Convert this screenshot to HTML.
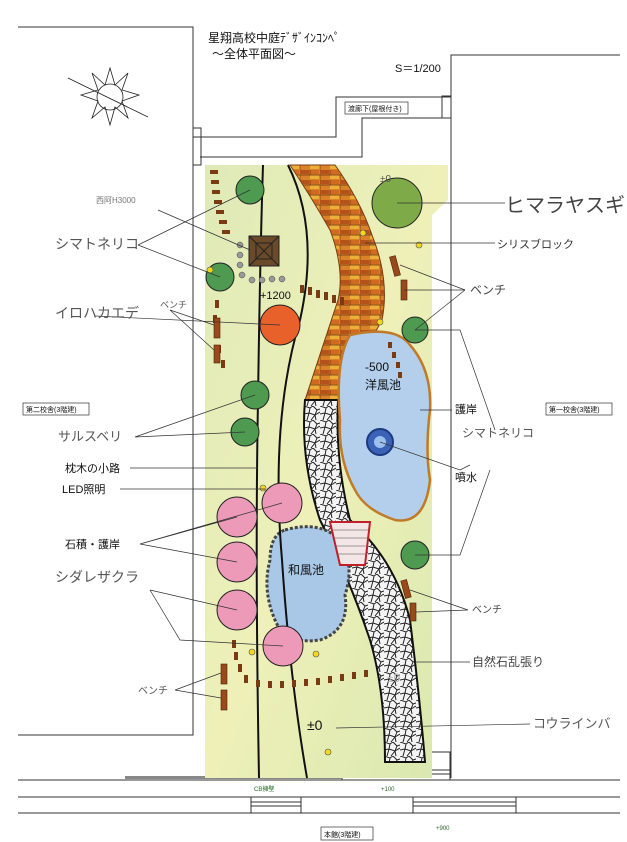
<!DOCTYPE html>
<html><head><meta charset="utf-8"><style>
html,body{margin:0;padding:0;background:#fff;}
svg{display:block;font-family:"Liberation Sans","Noto Sans CJK JP",sans-serif;}
</style></head><body>
<svg width="627" height="842" viewBox="0 0 627 842" xmlns="http://www.w3.org/2000/svg">
<rect width="627" height="842" fill="#fff"/>
<defs>
<linearGradient id="g1" x1="0" y1="0" x2="1" y2="1">
<stop offset="0" stop-color="#dfeab8"/><stop offset="0.5" stop-color="#eef0b8"/><stop offset="1" stop-color="#d8e8b0"/>
</linearGradient>
<pattern id="stone" width="16" height="14" patternUnits="userSpaceOnUse">
<rect width="16" height="14" fill="#f4f4f4"/>
<path d="M0,0 L6,2 L9,0 M6,2 L5,7 L0,8 M5,7 L11,9 L16,6 M9,0 L13,4 L16,3 M13,4 L11,9 L12,14 M5,7 L3,14 M11,9 L7,14" stroke="#222" stroke-width="1" fill="none"/>
</pattern>
<pattern id="brick" width="20" height="10" patternUnits="userSpaceOnUse">
<rect width="20" height="10" fill="#d9822a"/>
<rect x="0" y="0" width="9" height="4" fill="#b5521a"/><rect x="10" y="5" width="9" height="4" fill="#eab038"/>
<rect x="10" y="0" width="9" height="4" fill="#d06a20"/>
<path d="M0,5 H20 M10,0 V5 M0,5 V10" stroke="#6a3010" stroke-width="0.7"/>
</pattern>
</defs>
<g stroke="#333" stroke-width="1" fill="none">
<polyline points="18,27 193,27 193,735 18,735"/>
<polyline points="620,55 451,55 451,778"/>
<polyline points="193,137 336,137 336,97 451,97"/>
<polyline points="200,157 362,157 362,118 447,118"/>
<rect x="193" y="128" width="8" height="37"/>
<rect x="442" y="96" width="9" height="22"/>
<line x1="18" y1="780" x2="620" y2="780"/>
<line x1="18" y1="797" x2="620" y2="797"/>
<line x1="18" y1="813" x2="620" y2="813"/>
<rect x="342" y="752" width="108" height="28"/>
<line x1="342" y1="770" x2="450" y2="770"/><line x1="342" y1="774" x2="450" y2="774"/>
<rect x="251" y="797" width="50" height="16"/><line x1="251" y1="802" x2="301" y2="802"/><line x1="251" y1="806" x2="301" y2="806"/>
<rect x="413" y="797" width="103" height="16"/><line x1="413" y1="802" x2="516" y2="802"/><line x1="413" y1="806" x2="516" y2="806"/>
</g>
<rect x="125" y="776" width="217" height="3" fill="#888"/>
<g stroke="#222" stroke-width="0.8" fill="none">
<circle cx="110" cy="97" r="13"/>
<polygon points="110,68 115,85 128,73 122,90 139,95 122,101 128,118 115,107 110,125 105,107 92,118 98,101 81,95 98,90 92,73 105,85"/>
<line x1="68" y1="78" x2="148" y2="117"/>
</g>
<path d="M205,165 L448,165 L448,200 L432,215 L432,778 L205,778 Z" fill="url(#g1)"/>
<path d="M290,165 L335,165 Q360,200 372,235 Q390,280 382,320 Q360,360 338,400 L305,400 Q318,360 338,300 Q345,270 330,230 Q310,195 290,165 Z" fill="url(#brick)" stroke="#7a3c10" stroke-width="1"/>
<path d="M305,400 L338,400 Q335,460 350,520 Q395,560 410,620 Q420,700 425,762 L385,762 Q385,690 370,640 Q350,580 320,520 Q300,460 305,400 Z" fill="url(#stone)" stroke="#111" stroke-width="2"/>
<path d="M350,335 Q395,325 410,345 Q432,370 430,410 Q425,450 430,480 Q425,525 395,520 Q365,510 355,490 Q338,460 340,420 Q335,360 350,335 Z" fill="#b3cfeb" stroke="#c07a28" stroke-width="2.5"/>
<circle cx="380" cy="442" r="13" fill="#3a63b8" stroke="#1d3a80" stroke-width="2"/>
<circle cx="380" cy="442" r="6" fill="#9ec0ee"/>
<path d="M285,530 Q320,520 340,540 Q355,565 345,595 Q350,630 320,640 Q285,645 275,620 Q262,590 270,560 Q270,535 285,530 Z" fill="#a9c8e8" stroke="#444" stroke-width="3" stroke-dasharray="3,2"/>
<path d="M330,522 L370,522 L365,565 L340,565 Z" fill="#f3e6e6" stroke="#c0202a" stroke-width="2"/>
<g stroke="#444" stroke-width="0.5"><line x1="333" y1="530" x2="368" y2="530"/><line x1="334" y1="538" x2="367" y2="538"/><line x1="336" y1="546" x2="366" y2="546"/><line x1="337" y1="554" x2="365" y2="554"/></g>
<g stroke="#111" stroke-width="2" fill="none">
<path d="M263,165 Q260,260 258,400 Q255,560 259,778"/>
<path d="M288,165 Q320,230 300,320 Q270,420 282,560 Q290,680 307,778"/>
</g>
<g fill="#7a3a12">
<path d="M210,170 h8 v4 h-8z M211,180 h8 v4 h-8z M212,190 h8 v4 h-8z M214,200 h8 v4 h-8z M216,210 h8 v4 h-8z M219,220 h8 v4 h-8z M222,230 h8 v4 h-8z"/>
<path d="M215,300 h4 v8 h-4z M213,315 h4 v8 h-4z M214,330 h4 v8 h-4z M217,345 h4 v8 h-4z M221,360 h4 v8 h-4z"/>
<path d="M300,285 h4 v8 h-4z M308,287 h4 v8 h-4z M316,290 h4 v8 h-4z M324,292 h4 v8 h-4z M332,295 h4 v8 h-4z M340,297 h4 v8 h-4z"/>
<path d="M232,640 h4 v8 h-4z M234,652 h4 v8 h-4z M238,664 h4 v8 h-4z M244,675 h4 v8 h-4z M256,680 h4 v7 h-4z M268,681 h4 v7 h-4z M280,681 h4 v7 h-4z M292,680 h4 v7 h-4z M304,679 h4 v7 h-4z M316,678 h4 v7 h-4z M328,676 h4 v7 h-4z M340,674 h4 v7 h-4z M352,672 h4 v7 h-4z M364,670 h4 v7 h-4z"/>
<path d="M388,342 h4 v6 h-4z M392,352 h4 v6 h-4z M396,362 h4 v6 h-4z M398,372 h4 v6 h-4z"/>
</g>
<g fill="#9a4a1a" stroke="#4a2008" stroke-width="0.6">
<rect x="214" y="318" width="6" height="20"/><rect x="214" y="345" width="6" height="18"/>
<rect x="392" y="256" width="6" height="20" transform="rotate(-15 395 266)"/><rect x="401" y="280" width="6" height="20"/>
<rect x="403" y="580" width="6" height="18" transform="rotate(-15 406 589)"/><rect x="410" y="603" width="6" height="18"/>
<rect x="221" y="664" width="6" height="20"/><rect x="221" y="690" width="6" height="20"/>
</g>
<rect x="249" y="236" width="30" height="30" fill="#6b4a2a" stroke="#222"/>
<path d="M249,236 L279,266 M279,236 L249,266" stroke="#222"/>
<rect x="256" y="243" width="16" height="16" fill="none" stroke="#222"/>
<g fill="#999" stroke="#444" stroke-width="0.5">
<circle cx="240" cy="245" r="3"/><circle cx="240" cy="255" r="3"/><circle cx="240" cy="265" r="3"/><circle cx="242" cy="275" r="3"/><circle cx="252" cy="280" r="3"/><circle cx="262" cy="280" r="3"/><circle cx="272" cy="279" r="3"/><circle cx="282" cy="279" r="3"/>
</g>
<g stroke="#222" stroke-width="1">
<circle cx="397" cy="203" r="25" fill="#7faa48"/>
<circle cx="250" cy="190" r="14" fill="#4e9a50"/>
<circle cx="220" cy="277" r="14" fill="#4e9a50"/>
<circle cx="415" cy="330" r="13" fill="#4e9a50"/>
<circle cx="255" cy="395" r="14" fill="#4e9a50"/>
<circle cx="245" cy="432" r="14" fill="#4e9a50"/>
<circle cx="415" cy="555" r="14" fill="#4e9a50"/>
<circle cx="280" cy="325" r="20" fill="#e8602a"/>
<circle cx="282" cy="503" r="20" fill="#ec9ab8"/>
<circle cx="237" cy="517" r="20" fill="#ec9ab8"/>
<circle cx="237" cy="562" r="20" fill="#ec9ab8"/>
<circle cx="237" cy="610" r="20" fill="#ec9ab8"/>
<circle cx="283" cy="646" r="20" fill="#ec9ab8"/>
</g>
<g fill="#f0d820" stroke="#555" stroke-width="0.6">
<circle cx="363" cy="233" r="3"/><circle cx="419" cy="245" r="3"/><circle cx="210" cy="270" r="3"/><circle cx="380" cy="322" r="3"/><circle cx="252" cy="652" r="3"/><circle cx="316" cy="654" r="3"/><circle cx="328" cy="752" r="3"/><circle cx="263" cy="488" r="3"/>
</g>
<g stroke="#333" stroke-width="0.7" fill="none">
<path d="M158,210 L250,250"/>
<path d="M138,245 L250,190 M138,245 L220,277"/>
<path d="M95,316 L280,325"/>
<path d="M170,310 L214,325 M170,310 L214,350"/>
<path d="M135,437 L255,395 M135,437 L245,432"/>
<path d="M130,468 L258,468"/>
<path d="M120,489 L265,489"/>
<path d="M140,544 L237,517 M140,544 L282,503 M140,544 L237,562"/>
<path d="M150,590 L237,610 M150,590 L180,640 L283,646"/>
<path d="M175,690 L221,673 M175,690 L221,698"/>
<path d="M397,203 L505,203"/>
<path d="M365,243 L495,243"/>
<path d="M465,290 L400,265 M465,290 L404,290 M465,290 L415,330"/>
<path d="M420,410 L452,410"/>
<path d="M415,330 L460,330 L495,430"/>
<path d="M380,442 L460,470 L470,465"/>
<path d="M415,555 L460,555 L490,470"/>
<path d="M410,590 L468,610 M416,612 L468,610"/>
<path d="M415,662 L470,662"/>
<path d="M336,728 L530,724"/>
</g>
<g fill="#111">
<text x="208" y="42" font-size="12">星翔高校中庭ﾃﾞｻﾞｲﾝｺﾝﾍﾟ</text>
<text x="212" y="58" font-size="12">～全体平面図～</text>
<text x="395" y="72" font-size="11">S＝1/200</text>
<rect x="345" y="102" width="63" height="12" fill="none" stroke="#333" stroke-width="0.7"/>
<text x="348" y="111" font-size="7">渡廊下(屋根付き)</text>
<rect x="23" y="403" width="66" height="12" fill="none" stroke="#333" stroke-width="0.7"/>
<text x="26" y="412" font-size="7">第二校舎(3階建)</text>
<rect x="546" y="403" width="66" height="12" fill="none" stroke="#333" stroke-width="0.7"/>
<text x="549" y="412" font-size="7">第一校舎(3階建)</text>
<rect x="321" y="827" width="52" height="13" fill="none" stroke="#333" stroke-width="0.7"/>
<text x="324" y="837" font-size="7">本館(3階建)</text>
<text x="254" y="791" font-size="6" fill="#2a6a2a">CB擁壁</text>
<text x="381" y="791" font-size="6" fill="#2a6a2a">+100</text>
<text x="436" y="830" font-size="6" fill="#2a6a2a">+900</text>
<text x="96" y="203" font-size="8" fill="#777">西阿H3000</text>
<text x="55" y="249" font-size="14" fill="#555">シマトネリコ</text>
<text x="55" y="318" font-size="14" fill="#555">イロハカエデ</text>
<text x="160" y="308" font-size="9" fill="#555">ベンチ</text>
<text x="58" y="441" font-size="13" fill="#555">サルスベリ</text>
<text x="65" y="472" font-size="11">枕木の小路</text>
<text x="62" y="493" font-size="11">LED照明</text>
<text x="65" y="548" font-size="11">石積・護岸</text>
<text x="55" y="582" font-size="14" fill="#555">シダレザクラ</text>
<text x="138" y="694" font-size="10" fill="#555">ベンチ</text>
<text x="505" y="212" font-size="20" fill="#444">ヒマラヤスギ</text>
<text x="497" y="248" font-size="11" fill="#333">シリスブロック</text>
<text x="470" y="294" font-size="12" fill="#444">ベンチ</text>
<text x="455" y="413" font-size="11">護岸</text>
<text x="462" y="437" font-size="12" fill="#555">シマトネリコ</text>
<text x="455" y="481" font-size="11">噴水</text>
<text x="472" y="613" font-size="10" fill="#444">ベンチ</text>
<text x="472" y="666" font-size="12" fill="#444">自然石乱張り</text>
<text x="533" y="728" font-size="13" fill="#555">コウラインバ</text>
<text x="380" y="182" font-size="10" fill="#555">±0</text>
<text x="260" y="299" font-size="11">+1200</text>
<text x="365" y="371" font-size="12">-500</text>
<text x="365" y="389" font-size="12">洋風池</text>
<text x="288" y="574" font-size="12">和風池</text>
<text x="307" y="730" font-size="14">±0</text>
<text x="387" y="682" font-size="12" fill="#bbb">±0</text>
</g>
</svg>
</body></html>
